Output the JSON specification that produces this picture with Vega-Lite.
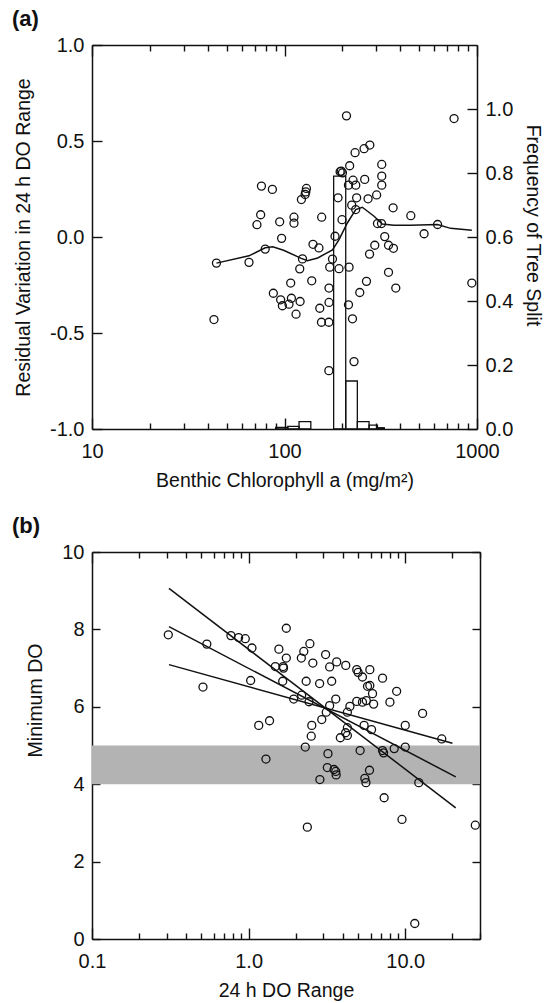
{
  "$schema": "https://vega.github.io/schema/vega-lite/v6.json",
  "background": "white",
  "padding": {"left": 12, "top": 8, "right": 4, "bottom": 2},
  "config": {
    "font": "Liberation Sans",
    "view": {"stroke": null},
    "axis": {"domainColor": "#111", "domainWidth": 1.5, "tickColor": "#111", "tickWidth": 1.4, "labelColor": "#111", "labelFont": "Liberation Sans", "labelFontSize": 20, "titleFont": "Liberation Sans", "titleFontSize": 19.5, "titleFontWeight": "normal", "titleColor": "#111", "grid": false},
    "title": {"font": "Liberation Sans", "fontSize": 22, "fontWeight": "bold", "anchor": "start", "color": "#111", "frame": "group"},
    "concat": {"spacing": 25}
  },
  "datasets": {
    "a_points": [
      {"chl": 44.3, "resid": -0.136}, {"chl": 43, "resid": -0.43}, {"chl": 65.4, "resid": -0.132}, {"chl": 75.9, "resid": 0.265},
      {"chl": 86.5, "resid": 0.248}, {"chl": 75.2, "resid": 0.116}, {"chl": 71.9, "resid": 0.064}, {"chl": 94.4, "resid": 0.079},
      {"chl": 96.6, "resid": -0.007}, {"chl": 79.4, "resid": -0.063}, {"chl": 112, "resid": 0.103}, {"chl": 112, "resid": 0.072},
      {"chl": 130, "resid": 0.253}, {"chl": 129, "resid": 0.235}, {"chl": 128, "resid": 0.222}, {"chl": 122.4, "resid": 0.195},
      {"chl": 156, "resid": 0.103}, {"chl": 124, "resid": -0.114}, {"chl": 140.6, "resid": -0.038}, {"chl": 151, "resid": -0.057},
      {"chl": 120, "resid": -0.166}, {"chl": 107.7, "resid": -0.24}, {"chl": 87.5, "resid": -0.293}, {"chl": 95.5, "resid": -0.327},
      {"chl": 97.5, "resid": -0.358}, {"chl": 108.6, "resid": -0.319}, {"chl": 105.5, "resid": -0.35}, {"chl": 120.5, "resid": -0.336},
      {"chl": 114.8, "resid": -0.402}, {"chl": 138.5, "resid": -0.228}, {"chl": 152.5, "resid": -0.371}, {"chl": 170.3, "resid": -0.341},
      {"chl": 170.3, "resid": -0.266}, {"chl": 155.6, "resid": -0.444}, {"chl": 170, "resid": -0.444}, {"chl": 170, "resid": -0.696},
      {"chl": 177.5, "resid": -0.115}, {"chl": 171.8, "resid": -0.157}, {"chl": 192, "resid": -0.165}, {"chl": 183, "resid": 0.004},
      {"chl": 189.7, "resid": 0.204}, {"chl": 194.5, "resid": 0.34}, {"chl": 200, "resid": 0.334}, {"chl": 197, "resid": 0.343},
      {"chl": 199, "resid": 0.09}, {"chl": 209.9, "resid": 0.631}, {"chl": 218, "resid": 0.371}, {"chl": 214.9, "resid": 0.27},
      {"chl": 234.5, "resid": 0.27}, {"chl": 227, "resid": 0.296}, {"chl": 232.6, "resid": 0.439}, {"chl": 259, "resid": 0.46},
      {"chl": 277.5, "resid": 0.479}, {"chl": 216.5, "resid": -0.157}, {"chl": 215, "resid": -0.353}, {"chl": 225.5, "resid": -0.426},
      {"chl": 229.7, "resid": -0.649}, {"chl": 223.5, "resid": 0.166}, {"chl": 234.4, "resid": 0.143}, {"chl": 237, "resid": 0.204},
      {"chl": 261, "resid": 0.3}, {"chl": 271.7, "resid": 0.199}, {"chl": 301, "resid": 0.219}, {"chl": 320, "resid": 0.378},
      {"chl": 320, "resid": 0.317}, {"chl": 320, "resid": 0.27}, {"chl": 304, "resid": 0.07}, {"chl": 319, "resid": 0.07},
      {"chl": 366.6, "resid": 0.152}, {"chl": 331.6, "resid": 0.002}, {"chl": 294.4, "resid": -0.043}, {"chl": 347, "resid": -0.043},
      {"chl": 368, "resid": -0.059}, {"chl": 276.6, "resid": -0.089}, {"chl": 347, "resid": -0.184}, {"chl": 266.6, "resid": -0.231},
      {"chl": 378.5, "resid": -0.266}, {"chl": 246, "resid": -0.289}, {"chl": 453, "resid": 0.111}, {"chl": 531, "resid": 0.017},
      {"chl": 624, "resid": 0.065}, {"chl": 760, "resid": 0.617}, {"chl": 940, "resid": -0.24}
    ],
    "a_loess": [
      {"chl": 44.3, "resid": -0.136}, {"chl": 65.4, "resid": -0.098}, {"chl": 79.4, "resid": -0.056}, {"chl": 86.9, "resid": -0.051},
      {"chl": 98.9, "resid": -0.069}, {"chl": 121.4, "resid": -0.11}, {"chl": 131.5, "resid": -0.124}, {"chl": 148.8, "resid": -0.109},
      {"chl": 177.5, "resid": -0.067}, {"chl": 192, "resid": -0.014}, {"chl": 212, "resid": 0.073}, {"chl": 234.4, "resid": 0.143},
      {"chl": 253.5, "resid": 0.155}, {"chl": 292, "resid": 0.108}, {"chl": 322, "resid": 0.068}, {"chl": 370, "resid": 0.061},
      {"chl": 451, "resid": 0.061}, {"chl": 623, "resid": 0.065}, {"chl": 730, "resid": 0.045}, {"chl": 940, "resid": 0.035}
    ],
    "a_bars": [
      {"lo": 90, "hi": 104, "freq": 0.005}, {"lo": 104, "hi": 119, "freq": 0.008}, {"lo": 119, "hi": 137, "freq": 0.023},
      {"lo": 180, "hi": 208, "freq": 0.79}, {"lo": 208, "hi": 239, "freq": 0.15}, {"lo": 239, "hi": 275, "freq": 0.023},
      {"lo": 275, "hi": 304, "freq": 0.012}, {"lo": 304, "hi": 330, "freq": 0.004}
    ],
    "b_points": [
      {"range": 0.307, "mindo": 7.86}, {"range": 0.541, "mindo": 7.62}, {"range": 0.771, "mindo": 7.84}, {"range": 0.863, "mindo": 7.79},
      {"range": 0.952, "mindo": 7.76}, {"range": 1.05, "mindo": 7.52}, {"range": 1.74, "mindo": 8.03}, {"range": 1.56, "mindo": 7.49},
      {"range": 1.74, "mindo": 7.26}, {"range": 1.48, "mindo": 7.04}, {"range": 1.66, "mindo": 7.04}, {"range": 1.67, "mindo": 7.0},
      {"range": 1.03, "mindo": 6.68}, {"range": 0.511, "mindo": 6.51}, {"range": 1.65, "mindo": 6.66}, {"range": 1.94, "mindo": 6.2},
      {"range": 2.17, "mindo": 7.26}, {"range": 2.25, "mindo": 7.43}, {"range": 2.46, "mindo": 7.63}, {"range": 2.57, "mindo": 7.13},
      {"range": 3.1, "mindo": 7.35}, {"range": 3.29, "mindo": 7.03}, {"range": 3.65, "mindo": 7.16}, {"range": 4.17, "mindo": 7.07},
      {"range": 4.9, "mindo": 6.96}, {"range": 5.0, "mindo": 6.89}, {"range": 5.94, "mindo": 6.96}, {"range": 5.33, "mindo": 6.77},
      {"range": 7.16, "mindo": 6.74}, {"range": 2.33, "mindo": 6.66}, {"range": 2.84, "mindo": 6.6}, {"range": 3.39, "mindo": 6.66},
      {"range": 5.74, "mindo": 6.53}, {"range": 5.94, "mindo": 6.55}, {"range": 6.18, "mindo": 6.34}, {"range": 8.81, "mindo": 6.4},
      {"range": 2.18, "mindo": 6.3}, {"range": 2.43, "mindo": 6.13}, {"range": 3.29, "mindo": 6.03}, {"range": 3.6, "mindo": 6.2},
      {"range": 4.43, "mindo": 6.01}, {"range": 4.9, "mindo": 6.14}, {"range": 5.33, "mindo": 6.12}, {"range": 5.64, "mindo": 6.16},
      {"range": 6.28, "mindo": 6.07}, {"range": 7.98, "mindo": 6.12}, {"range": 1.16, "mindo": 5.52}, {"range": 1.36, "mindo": 5.64},
      {"range": 1.29, "mindo": 4.65}, {"range": 2.37, "mindo": 2.89}, {"range": 2.3, "mindo": 4.96}, {"range": 2.51, "mindo": 5.24},
      {"range": 2.53, "mindo": 5.52}, {"range": 2.93, "mindo": 5.67}, {"range": 3.13, "mindo": 5.86}, {"range": 3.21, "mindo": 4.79},
      {"range": 3.18, "mindo": 4.43}, {"range": 3.51, "mindo": 4.38}, {"range": 3.6, "mindo": 4.33}, {"range": 3.62, "mindo": 4.24},
      {"range": 2.85, "mindo": 4.12}, {"range": 4.27, "mindo": 5.86}, {"range": 4.27, "mindo": 5.46}, {"range": 4.16, "mindo": 5.33},
      {"range": 4.27, "mindo": 5.26}, {"range": 3.85, "mindo": 5.2}, {"range": 5.15, "mindo": 4.87}, {"range": 5.91, "mindo": 4.36},
      {"range": 5.52, "mindo": 4.15}, {"range": 5.61, "mindo": 4.04}, {"range": 5.46, "mindo": 5.52}, {"range": 6.09, "mindo": 5.41},
      {"range": 7.16, "mindo": 4.87}, {"range": 7.27, "mindo": 4.81}, {"range": 8.5, "mindo": 4.92}, {"range": 7.33, "mindo": 3.65},
      {"range": 10.0, "mindo": 5.52}, {"range": 10.0, "mindo": 4.96}, {"range": 12.9, "mindo": 5.83}, {"range": 12.2, "mindo": 4.04},
      {"range": 9.53, "mindo": 3.09}, {"range": 17.1, "mindo": 5.17}, {"range": 28, "mindo": 2.94}, {"range": 11.5, "mindo": 0.4}
    ],
    "b_lines": [
      {"line": "upper", "range": 0.31, "mindo": 9.06}, {"line": "upper", "range": 21, "mindo": 3.39},
      {"line": "mid", "range": 0.31, "mindo": 8.07}, {"line": "mid", "range": 21, "mindo": 4.19},
      {"line": "lower", "range": 0.31, "mindo": 7.09}, {"line": "lower", "range": 20, "mindo": 5.06}
    ]
  },
  "vconcat": [
    {
      "title": {"text": "(a)", "dx": -80, "offset": 4},
      "width": 385,
      "height": 384,
      "layer": [
        {
          "layer": [
            {
              "data": {"name": "a_points"},
              "mark": {"type": "point", "shape": "circle", "filled": false, "stroke": "#111", "strokeWidth": 1.3, "size": 64, "opacity": 1},
              "encoding": {
                "x": {"field": "chl", "type": "quantitative", "scale": {"type": "log", "domain": [10, 1000], "nice": false},
                  "axis": {"orient": "bottom", "title": "Benthic Chlorophyll a (mg/m²)", "values": [10, 20, 30, 40, 50, 60, 70, 80, 90, 100, 200, 300, 400, 500, 600, 700, 800, 900, 1000],
                    "format": "d", "labelExpr": "datum.value==10||datum.value==100||datum.value==1000 ? datum.label : ''",
                    "tickSize": {"condition": {"test": "datum.value==10||datum.value==100||datum.value==1000", "value": -11}, "value": -6},
                    "labelPadding": 23, "titlePadding": 5, "labelFlush": false, "labelOverlap": false}},
                "y": {"field": "resid", "type": "quantitative", "scale": {"domain": [-1, 1], "nice": false},
                  "axis": {"orient": "left", "title": "Residual Variation in 24 h DO Range", "values": [-1, -0.5, 0, 0.5, 1], "format": ".1f",
                    "labelExpr": "replace(datum.label, '\u2212', '-')", "tickSize": -10, "labelPadding": 18, "titlePadding": 16, "labelFlush": false}}
              }
            },
            {
              "data": {"name": "a_loess"},
              "mark": {"type": "line", "color": "#111", "strokeWidth": 1.5},
              "encoding": {
                "x": {"field": "chl", "type": "quantitative", "scale": {"type": "log", "domain": [10, 1000], "nice": false}},
                "y": {"field": "resid", "type": "quantitative", "scale": {"domain": [-1, 1], "nice": false}}
              }
            }
          ]
        },
        {
          "data": {"name": "a_bars"},
          "mark": {"type": "rect", "fill": "white", "fillOpacity": 0, "stroke": "#111", "strokeWidth": 1.3},
          "encoding": {
            "x": {"field": "lo", "type": "quantitative", "scale": {"type": "log", "domain": [10, 1000], "nice": false},
              "axis": {"orient": "top", "title": null, "labels": false, "values": [10, 20, 30, 40, 50, 60, 70, 80, 90, 100, 200, 300, 400, 500, 600, 700, 800, 900, 1000],
                "tickSize": {"condition": {"test": "datum.value==10||datum.value==100||datum.value==1000", "value": -11}, "value": -6}}},
            "x2": {"field": "hi"},
            "y": {"field": "freq", "type": "quantitative", "scale": {"domain": [0, 1.2], "nice": false},
              "axis": {"orient": "right", "title": "Frequency of Tree Split", "values": [0, 0.2, 0.4, 0.6, 0.8, 1.0], "format": ".1f", "tickSize": -10, "labelPadding": 18, "titlePadding": 10, "titleY": 180, "labelFlush": false}},
            "y2": {"datum": 0}
          }
        }
      ],
      "resolve": {"scale": {"y": "independent"}, "axis": {"x": "independent", "y": "independent"}}
    },
    {
      "title": {"text": "(b)", "dx": -80, "offset": 4},
      "width": 388,
      "height": 387,
      "layer": [
        {
          "data": {"values": [{"lo": 4, "hi": 5}]},
          "mark": {"type": "rect", "color": "#b3b3b3"},
          "encoding": {
            "y": {"field": "lo", "type": "quantitative", "scale": {"domain": [0, 10], "nice": false}, "axis": null},
            "y2": {"field": "hi"}
          }
        },
        {
          "data": {"name": "b_lines"},
          "mark": {"type": "line", "color": "#111", "strokeWidth": 1.5},
          "encoding": {
            "x": {"field": "range", "type": "quantitative", "scale": {"type": "log", "domain": [0.1, 30], "nice": false},
              "axis": {"orient": "top", "title": null, "labels": false, "values": [0.1, 0.2, 0.3, 0.4, 0.5, 0.6, 0.7, 0.8, 0.9, 1, 2, 3, 4, 5, 6, 7, 8, 9, 10, 20, 30],
                "tickSize": {"condition": {"test": "datum.value==0.1||datum.value==1||datum.value==10", "value": -11}, "value": -6}}},
            "y": {"field": "mindo", "type": "quantitative", "scale": {"domain": [0, 10], "nice": false},
              "axis": {"orient": "right", "title": null, "labels": false, "values": [0, 2, 4, 6, 8, 10], "tickSize": -8}},
            "detail": {"field": "line"}
          }
        },
        {
          "data": {"name": "b_points"},
          "mark": {"type": "point", "shape": "circle", "filled": false, "stroke": "#111", "strokeWidth": 1.3, "size": 64, "opacity": 1},
          "encoding": {
            "x": {"field": "range", "type": "quantitative", "scale": {"type": "log", "domain": [0.1, 30], "nice": false},
              "axis": {"orient": "bottom", "title": "24 h DO Range", "values": [0.1, 0.2, 0.3, 0.4, 0.5, 0.6, 0.7, 0.8, 0.9, 1, 2, 3, 4, 5, 6, 7, 8, 9, 10, 20, 30],
                "format": ".1f", "labelExpr": "datum.value==0.1||datum.value==1||datum.value==10 ? datum.label : ''",
                "tickSize": {"condition": {"test": "datum.value==0.1||datum.value==1||datum.value==10", "value": -11}, "value": -6},
                "labelPadding": 23, "titlePadding": 5, "labelFlush": false, "labelOverlap": false}},
            "y": {"field": "mindo", "type": "quantitative", "scale": {"domain": [0, 10], "nice": false},
              "axis": {"orient": "left", "title": "Minimum DO", "values": [0, 2, 4, 6, 8, 10], "format": "d", "tickSize": -8, "labelPadding": 16, "titlePadding": 16, "titleY": 148, "labelFlush": false}}
          }
        }
      ],
      "resolve": {"axis": {"x": "independent", "y": "independent"}}
    }
  ]
}
